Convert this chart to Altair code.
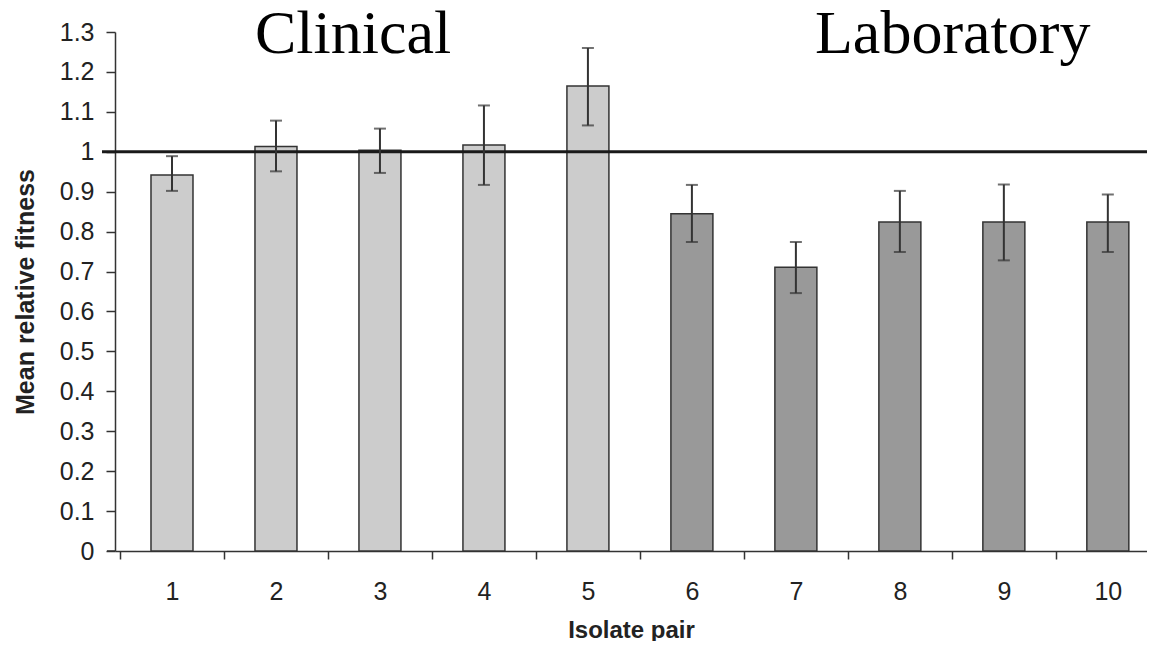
import altair as alt
import pandas as pd

pairs = [1, 2, 3, 4, 5, 6, 7, 8, 9, 10]
fitness = [0.942, 1.013, 1.004, 1.017, 1.165, 0.845, 0.711, 0.824, 0.824, 0.824]
err_hi = [0.989, 1.078, 1.058, 1.116, 1.260, 0.917, 0.774, 0.902, 0.918, 0.893]
err_lo = [0.902, 0.951, 0.947, 0.917, 1.066, 0.774, 0.646, 0.749, 0.728, 0.749]
group = ["Clinical"] * 5 + ["Laboratory"] * 5
y_ticks = [0, 0.1, 0.2, 0.3, 0.4, 0.5, 0.6, 0.7, 0.8, 0.9, 1, 1.1, 1.2, 1.3]
x_ticks = [0.5, 1, 1.5, 2, 2.5, 3, 3.5, 4, 4.5, 5, 5.5, 6, 6.5, 7, 7.5, 8, 8.5, 9, 9.5, 10]
headers = ["Clinical", "Laboratory"]
header_x = [140, 700]

df = pd.DataFrame({"pair": pairs, "fitness": fitness, "hi": err_hi, "lo": err_lo, "group": group})
hdf = pd.DataFrame({"label": headers, "px": header_x})

W, H = 1032, 519
xscale = alt.Scale(domain=[0.5, 0.5 + W / 105.0], nice=False, zero=False)
yscale = alt.Scale(domain=[0, 1.3], nice=False)

xaxis = alt.Axis(
    values=x_ticks,
    labelExpr="datum.value % 1 === 0 ? format(datum.value, 'd') : ''",
    tickOpacity={"condition": {"test": "datum.value % 1 !== 0", "value": 1}, "value": 0},
    labelOverlap=False, labelFlush=False, labelBound=False,
    grid=False, tickSize=8, labelPadding=20, labelFontSize=25,
    labelFont="Liberation Sans", labelColor="#222",
    domainColor="#333", domainWidth=1.5, tickColor="#333", tickWidth=1.5,
    title="Isolate pair", titleFont="Liberation Sans", titleFontSize=24,
    titleFontWeight="bold", titleColor="#222", titleBaseline="alphabetic", titleY=86,
)
yaxis = alt.Axis(
    values=y_ticks, format="~g", grid=False, tickSize=9, labelPadding=12,
    labelOverlap=False, labelFlush=False,
    labelFontSize=25, labelFont="Liberation Sans", labelColor="#222",
    domainColor="#333", domainWidth=1.5, tickColor="#333", tickWidth=1.5,
    title="Mean relative fitness", titleFont="Liberation Sans", titleFontSize=25,
    titleFontWeight="bold", titleColor="#222", titleBaseline="alphabetic", titleX=-82,
)


def X(field):
    return alt.X(field, scale=xscale, axis=xaxis)


def Y(field):
    return alt.Y(field, scale=yscale, axis=yaxis)


base = alt.Chart(df)

bars = base.mark_bar(size=42, stroke="#333", strokeWidth=1.5).encode(
    x=X("pair:Q"),
    y=Y("fitness:Q"),
    y2=alt.datum(0),
    fill=alt.Fill("group:N", scale=alt.Scale(domain=headers, range=["#cccccc", "#999999"]), legend=None),
)

err = base.mark_rule(color="#333", strokeWidth=2).encode(
    x=X("pair:Q"), y=Y("lo:Q"), y2="hi:Q"
)
cap_hi = base.mark_tick(orient="horizontal", size=12, thickness=2, color="#333").encode(
    x=X("pair:Q"), y=Y("hi:Q")
)
cap_lo = base.mark_tick(orient="horizontal", size=12, thickness=2, color="#333").encode(
    x=X("pair:Q"), y=Y("lo:Q")
)

ref = alt.Chart(pd.DataFrame({"v": [1]})).mark_rule(color="#1a1a1a", strokeWidth=3).encode(
    y=Y("v:Q"), x=alt.value(-13), x2=alt.value(W)
)
base_line = alt.Chart(pd.DataFrame({"v": [0]})).mark_rule(color="#333", strokeWidth=1.5).encode(
    y=Y("v:Q"), x=alt.value(-8), x2=alt.value(0)
)

heads = alt.Chart(hdf).mark_text(
    font="Liberation Serif", fontSize=62, align="left", baseline="alphabetic", color="#000"
).encode(
    x=alt.X("px:Q", scale=None), y=alt.value(21), text="label:N"
)

chart = alt.layer(bars, ref, err, cap_hi, cap_lo, base_line, heads).properties(
    width=W, height=H,
    padding={"left": 107, "top": 24, "right": 0, "bottom": 90},
    autosize=alt.AutoSizeParams(type="none"),
).configure(background="white").configure_view(stroke=None)

chart.save("out.html", embed_options={"renderer": "svg", "actions": False})
